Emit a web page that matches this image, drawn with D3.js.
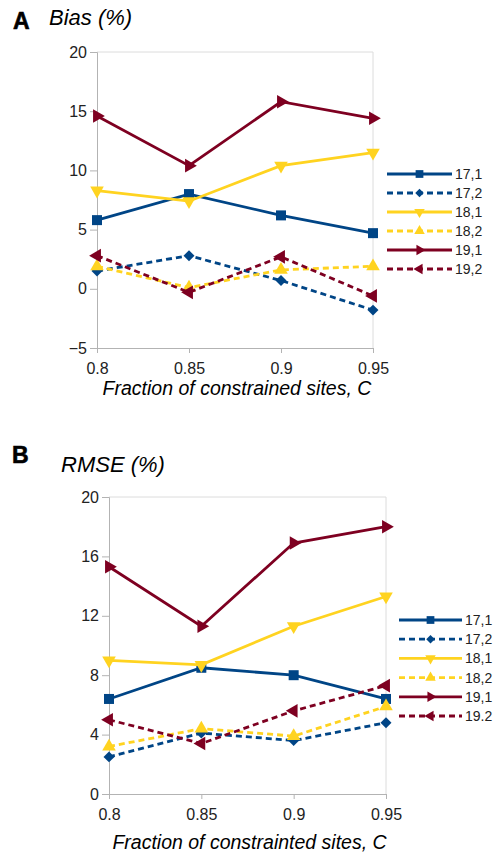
<!DOCTYPE html>
<html>
<head>
<meta charset="utf-8">
<script src="https://cdn.jsdelivr.net/npm/d3@7"></script>
<style>
  body { margin: 0; background: #fff; }
  svg { font-family: "Liberation Sans", Arial, sans-serif; }
  .tick text { fill: #222; }
</style>
</head>
<body>
<svg id="chart" width="495" height="853"></svg>
<script>
const fractions = ['0.8', '0.85', '0.9', '0.95'];
const namesA = ['17,1', '17,2', '18,1', '18,2', '19,1', '19,2'];
const namesB = ['17,1', '17,2', '18,1', '18,2', '19,1', '19.2'];

// panel A: bias (%)
const bias17_1 = [5.8, 8.0, 6.2, 4.7];
const bias17_2 = [1.5, 2.8, 0.7, -1.8];
const bias18_1 = [8.3, 7.4, 10.4, 11.5];
const bias18_2 = [1.9, 0.1, 1.6, 1.9];
const bias19_1 = [14.6, 10.4, 15.8, 14.4];
const bias19_2 = [2.8, -0.3, 2.7, -0.6];
const biasTicks = [-5, 0, 5, 10, 15, 20];

// panel B: RMSE (%)
const rmse17_1 = [6.4, 8.5, 8.0, 6.4];
const rmse17_2 = [2.5, 4.1, 3.6, 4.8];
const rmse18_1 = [9.0, 8.7, 11.3, 13.3];
const rmse18_2 = [3.2, 4.4, 3.9, 5.9];
const rmse19_1 = [15.3, 11.3, 16.9, 18.0];
const rmse19_2 = [5.0, 3.4, 5.6, 7.3];
const rmseTicks = [0, 4, 8, 12, 16, 20];

const blue = '#004586', yellow = '#ffd320', red = '#7e0021';
const styles = [
  { color: blue, dash: null, symbol: d3.symbolSquare, size: 100, rot: 0 },
  { color: blue, dash: '6,4', symbol: d3.symbolSquare, size: 60, rot: 45 },
  { color: yellow, dash: null, symbol: d3.symbolTriangle, size: 80, rot: 180 },
  { color: yellow, dash: '6,4', symbol: d3.symbolTriangle, size: 80, rot: 0 },
  { color: red, dash: null, symbol: d3.symbolTriangle, size: 80, rot: 90 },
  { color: red, dash: '6,4', symbol: d3.symbolTriangle, size: 80, rot: -90 }
];

const svg = d3.select('#chart');

function drawPanel(cfg) {
  const x = d3.scalePoint().domain(fractions).range([cfg.left, cfg.right]);
  const y = d3.scaleLinear().domain(d3.extent(cfg.ticks)).range([cfg.bottom, cfg.top]);
  const g = svg.append('g');

  // frame top/right
  g.append('path')
    .attr('d', `M${cfg.left},${cfg.top}H${cfg.right}V${cfg.bottom}`)
    .attr('fill', 'none').attr('stroke', '#dcdcdc').attr('stroke-width', 1);

  const yAxis = g.append('g')
    .attr('transform', `translate(${cfg.left},0)`)
    .call(d3.axisLeft(y).tickValues(cfg.ticks).tickSize(7).tickPadding(3));
  const xAxis = g.append('g')
    .attr('transform', `translate(0,${cfg.bottom})`)
    .call(d3.axisBottom(x).tickSize(5).tickPadding(10));
  [yAxis, xAxis].forEach(a => {
    a.select('.domain').attr('stroke', '#b3b3b3');
    a.selectAll('.tick line').attr('stroke', '#b3b3b3');
    a.selectAll('.tick text').attr('font-size', 16).attr('fill', '#222');
  });

  const line = d3.line().x((d, i) => x(fractions[i])).y(d => y(d));
  cfg.series.forEach((vals, k) => {
    const s = styles[k];
    g.append('path')
      .attr('d', line(vals))
      .attr('fill', 'none')
      .attr('stroke', s.color)
      .attr('stroke-width', 2.8)
      .attr('stroke-dasharray', s.dash);
    g.selectAll(null).data(vals).enter().append('path')
      .attr('d', d3.symbol().type(s.symbol).size(s.size))
      .attr('transform', (d, i) => `translate(${x(fractions[i])},${y(d)}) rotate(${s.rot})`)
      .attr('fill', s.color);
  });

  // legend
  const lg = g.append('g');
  cfg.names.forEach((name, k) => {
    const s = styles[k];
    const ly = cfg.legendTop + k * cfg.legendStep;
    lg.append('line')
      .attr('x1', cfg.legendX).attr('x2', cfg.legendX + cfg.legendLen)
      .attr('y1', ly).attr('y2', ly)
      .attr('stroke', s.color).attr('stroke-width', 2.8)
      .attr('stroke-dasharray', s.dash);
    lg.append('path')
      .attr('d', d3.symbol().type(s.symbol).size(s.size * 0.6))
      .attr('transform', `translate(${cfg.legendX + cfg.legendLen / 2},${ly}) rotate(${s.rot})`)
      .attr('fill', s.color);
    lg.append('text')
      .attr('x', cfg.legendX + cfg.legendLen + 3)
      .attr('y', ly + 5)
      .attr('font-size', 14)
      .attr('fill', '#222')
      .text(name);
  });

  g.append('text')
    .attr('x', cfg.letterX).attr('y', cfg.letterY)
    .attr('font-size', 23).attr('font-weight', 'bold')
    .attr('stroke', '#000').attr('stroke-width', 0.6)
    .text(cfg.letter);
  g.append('text')
    .attr('x', cfg.titleX).attr('y', cfg.titleY)
    .attr('font-size', 22).attr('font-style', 'italic')
    .text(cfg.title);
  g.append('text')
    .attr('x', (cfg.left + cfg.right) / 2 + 2).attr('y', cfg.xTitleY)
    .attr('text-anchor', 'middle')
    .attr('font-size', 19.5).attr('font-style', 'italic')
    .text(cfg.xTitle);
}

drawPanel({
  left: 97, right: 373, top: 52, bottom: 348,
  ticks: biasTicks,
  series: [bias17_1, bias17_2, bias18_1, bias18_2, bias19_1, bias19_2],
  names: namesA,
  legendX: 387, legendLen: 65, legendTop: 174, legendStep: 19,
  letter: 'A', letterX: 13, letterY: 29,
  title: 'Bias (%)', titleX: 49, titleY: 25,
  xTitle: 'Fraction of constrained sites, C', xTitleY: 395
});

drawPanel({
  left: 109, right: 386, top: 497, bottom: 794,
  ticks: rmseTicks,
  series: [rmse17_1, rmse17_2, rmse18_1, rmse18_2, rmse19_1, rmse19_2],
  names: namesB,
  legendX: 399, legendLen: 63, legendTop: 620, legendStep: 19.2,
  letter: 'B', letterX: 12, letterY: 463,
  title: 'RMSE (%)', titleX: 61, titleY: 472,
  xTitle: 'Fraction of constrainted sites, C', xTitleY: 849
});
</script>
</body>
</html>
